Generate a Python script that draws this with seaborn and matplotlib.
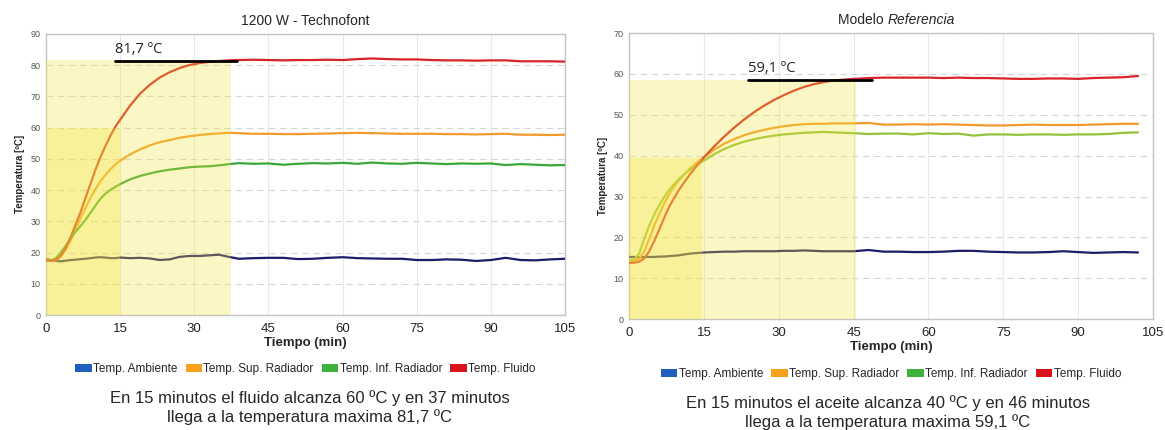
import matplotlib
matplotlib.use("Agg")
import matplotlib.pyplot as plt
from matplotlib.patches import Patch
import seaborn as sns
import pandas as pd

# ---------------- data ----------------
t_left = [0, 1, 2, 3, 4, 5, 6, 7, 8, 9, 10, 11, 12, 13, 14, 15, 17, 19, 21, 23, 25, 27, 29, 31, 33,
          35, 37, 39, 42, 45, 48, 51, 54, 57, 60, 63, 66, 69, 72, 75, 78, 81, 84, 87, 90, 93, 96, 99, 102, 105]
left_fluido = [17.5, 17.4, 17.6, 19.0, 21.5, 25.0, 29.0, 33.0, 37.5, 42.0, 46.5, 50.5, 54.0, 57.3, 60.2,
               62.5, 67.0, 70.8, 73.7, 76.0, 77.7, 79.0, 80.0, 80.6, 81.0, 81.3, 81.5, 81.6, 81.7, 81.6,
               81.5, 81.6, 81.6, 81.7, 81.6, 81.9, 82.1, 81.9, 81.8, 81.8, 81.6, 81.5, 81.5, 81.4, 81.5,
               81.5, 81.2, 81.2, 81.2, 81.1]
left_sup = [17.5, 17.3, 17.5, 18.8, 21.0, 24.0, 27.5, 31.0, 34.3, 37.5, 40.3, 42.8, 44.8, 46.6, 48.1,
            49.4, 51.4, 53.0, 54.3, 55.3, 56.0, 56.7, 57.2, 57.6, 57.9, 58.1, 58.3, 58.2, 58.0, 58.0,
            57.9, 57.9, 58.0, 58.1, 58.2, 58.3, 58.2, 58.1, 58.0, 58.0, 58.0, 57.9, 57.9, 57.8, 57.9,
            58.0, 57.7, 57.7, 57.6, 57.7]
left_inf = [17.6, 17.5, 18.2, 20.0, 22.2, 24.5, 26.7, 28.5, 30.5, 32.7, 35.0, 37.2, 38.8, 40.0, 41.0,
            41.9, 43.4, 44.5, 45.3, 46.0, 46.5, 46.9, 47.3, 47.5, 47.6, 47.9, 48.3, 48.6, 48.4, 48.5,
            48.1, 48.4, 48.6, 48.5, 48.7, 48.4, 48.8, 48.5, 48.4, 48.7, 48.5, 48.3, 48.5, 48.4, 48.5,
            48.0, 48.3, 48.1, 47.9, 48.0]
left_amb = [17.8, 17.6, 17.3, 17.2, 17.4, 17.6, 17.7, 17.9, 18.0, 18.2, 18.4, 18.5, 18.4, 18.2, 18.2,
            18.4, 18.2, 18.3, 18.1, 17.6, 17.8, 18.6, 18.9, 18.9, 19.1, 19.3, 18.6, 18.0, 18.2, 18.3,
            18.3, 17.9, 18.0, 18.3, 18.5, 18.2, 18.1, 18.0, 18.0, 17.6, 17.6, 17.8, 17.7, 17.3, 17.6,
            18.3, 17.6, 17.5, 17.8, 18.0]

t_right = [0, 1, 2, 3, 4, 5, 6, 7, 8, 9, 10, 11, 12, 13, 14, 15, 17, 19, 21, 23, 25, 27, 29, 31, 33,
           35, 37, 39, 41, 43, 45, 48, 51, 54, 57, 60, 63, 66, 69, 72, 75, 78, 81, 84, 87, 90, 93, 96, 99, 102]
right_fluido = [13.7, 13.8, 14.0, 14.8, 16.5, 19.0, 21.8, 24.7, 27.4, 29.6, 31.6, 33.4, 35.1, 36.7, 38.2,
                39.6, 42.2, 44.6, 46.8, 48.8, 50.6, 52.2, 53.6, 54.8, 55.9, 56.8, 57.5, 58.0, 58.4, 58.6,
                58.8, 59.0, 59.1, 59.1, 59.1, 59.1, 59.0, 59.1, 59.0, 59.0, 58.9, 58.8, 58.8, 58.9, 58.9,
                58.8, 59.0, 59.1, 59.2, 59.5]
right_sup = [14.0, 14.2, 14.7, 16.5, 19.5, 22.8, 25.6, 28.2, 30.5, 32.4, 34.0, 35.4, 36.6, 37.7, 38.7,
             39.6, 41.4, 42.9, 44.0, 45.0, 45.7, 46.3, 46.8, 47.2, 47.5, 47.7, 47.8, 47.8, 47.9, 47.9,
             47.9, 48.0, 47.6, 47.6, 47.7, 47.6, 47.7, 47.6, 47.5, 47.4, 47.4, 47.5, 47.6, 47.5, 47.5,
             47.5, 47.6, 47.7, 47.8, 47.8]
right_inf = [14.4, 14.6, 16.0, 19.5, 22.8, 25.5, 27.8, 29.8, 31.6, 33.0, 34.3, 35.4, 36.4, 37.2, 38.0,
             38.8, 40.3, 41.6, 42.6, 43.4, 44.0, 44.5, 44.9, 45.2, 45.4, 45.6, 45.7, 45.8, 45.7, 45.6,
             45.5, 45.3, 45.4, 45.4, 45.2, 45.5, 45.3, 45.4, 44.9, 45.2, 45.2, 45.1, 45.2, 45.2, 45.1,
             45.2, 45.2, 45.3, 45.6, 45.7]
right_amb = [15.2, 15.2, 15.1, 15.2, 15.2, 15.2, 15.3, 15.3, 15.4, 15.5, 15.6, 15.8, 16.0, 16.1, 16.2,
             16.3, 16.4, 16.5, 16.5, 16.6, 16.6, 16.6, 16.6, 16.7, 16.7, 16.8, 16.7, 16.6, 16.6, 16.6,
             16.6, 16.9, 16.5, 16.5, 16.4, 16.4, 16.5, 16.7, 16.7, 16.5, 16.4, 16.3, 16.3, 16.4, 16.6,
             16.4, 16.2, 16.3, 16.4, 16.3]

series_names = ["Temp. Ambiente", "Temp. Sup. Radiador", "Temp. Inf. Radiador", "Temp. Fluido"]
x_ticks = [0, 15, 30, 45, 60, 75, 90, 105]

# highlighted regions: (x_end, y_top)
left_light = (37.5, 81.5)
left_dark = (15, 60)
left_mark = (14, 38.7, 81.4)
right_light = (45.5, 58.4)
right_dark = (14.6, 39.4)
right_mark = (23.8, 48.6, 58.6)

titles = ["1200 W - Technofont", None]
mark_labels = ["81,7 ºC", "59,1 ºC"]
captions = ["En 15 minutos el fluido alcanza 60 ºC y en 37 minutos\nllega a la temperatura maxima 81,7 ºC",
            "En 15 minutos el aceite alcanza 40 ºC y en 46 minutos\nllega a la temperatura maxima 59,1 ºC"]

# ---------------- style ----------------
sns.set_style("white")
plt.rcParams["font.family"] = ["Liberation Sans", "DejaVu Sans"]

line_colors_left = ["#1d1c6b", "#f39a2b", "#3aa53a", "#d8232a"]
line_colors_right = ["#1d1c6b", "#f39a2b", "#93c13c", "#d8232a"]
legend_colors = ["#1f5fc0", "#f7a11a", "#3db33d", "#d7141a"]
shade_color = "#f5e63c"

fig = plt.figure(figsize=(11.65, 4.30), dpi=100)
ax_l = fig.add_axes([0.0395, 0.2674, 0.4455, 0.654])
ax_r = fig.add_axes([0.540, 0.258, 0.4497, 0.665])


def draw(ax, t, series, colors, ymax, light, dark, mark, label, xend):
    rows = []
    for name, vals in zip(series_names, series):
        for tt, v in zip(t, vals):
            rows.append({"t": tt, "v": v, "s": name})
    df = pd.DataFrame(rows)
    sns.lineplot(data=df, x="t", y="v", hue="s", palette=dict(zip(series_names, colors)),
                 ax=ax, linewidth=1.6, legend=False, zorder=3, estimator=None)
    ax.fill_between([0, light[0]], 0, light[1], color=shade_color, alpha=0.3, lw=0, zorder=4)
    ax.fill_between([0, dark[0]], 0, dark[1], color=shade_color, alpha=0.3, lw=0, zorder=4)
    ax.plot([mark[0], mark[1]], [mark[2], mark[2]], color="black", lw=2.0, zorder=5)
    ax.annotate(label, xy=(mark[0], mark[2]), xytext=(0, 3), textcoords="offset points",
                fontsize=10.5, color="#222222", family=["Open Sans", "DejaVu Sans"],
                zorder=6, va="bottom", ha="left")
    ax.set_xlim(0, xend)
    ax.set_ylim(0, ymax)
    ax.set_xticks(x_ticks)
    ax.set_yticks(range(0, ymax + 1, 10))
    ax.tick_params(axis="x", labelsize=9.5, colors="#222222", length=0, pad=6)
    ax.tick_params(axis="y", labelsize=6.5, colors="#555555", length=0, pad=4)
    ax.grid(axis="y", color="#d6d6d6", linestyle=(0, (6, 4)), lw=0.8, zorder=0)
    ax.grid(axis="x", color="#e8e8e8", linestyle="-", lw=0.8, zorder=0)
    ax.set_axisbelow(True)
    for sp in ax.spines.values():
        sp.set_color("#c4c4c4")
        sp.set_linewidth(1.0)
    ax.set_xlabel("Tiempo (min)", fontsize=9.5, fontweight="bold", labelpad=1)
    ax.set_ylabel("Temperatura [ºC]", fontsize=7, fontweight="bold", labelpad=4)
    handles = [Patch(facecolor=c, edgecolor="none") for c in legend_colors]
    ax.legend(handles, series_names, loc="upper center", bbox_to_anchor=(0.5, -0.155), ncol=4,
              frameon=False, fontsize=8.5, handlelength=1.4, handleheight=0.6, handletextpad=0.1,
              columnspacing=0.7, borderaxespad=0)


draw(ax_l, t_left, [left_amb, left_sup, left_inf, left_fluido], line_colors_left, 90,
     left_light, left_dark, left_mark, mark_labels[0], 105)
draw(ax_r, t_right, [right_amb, right_sup, right_inf, right_fluido], line_colors_right, 70,
     right_light, right_dark, right_mark, mark_labels[1], 105)

ax_l.set_title(titles[0], fontsize=10, pad=6)
# right title with italic word
fig.text(0.7615, 0.938, "Modelo ", ha="right", va="bottom", fontsize=10)
fig.text(0.7615, 0.938, "Referencia", ha="left", va="bottom", fontsize=10, style="italic")

fig.text(0.266, 0.012, captions[0], ha="center", va="bottom", fontsize=12, linespacing=1.25)
fig.text(0.762, 0.0, captions[1], ha="center", va="bottom", fontsize=12, linespacing=1.25)

fig.savefig("out.png", dpi=100)
